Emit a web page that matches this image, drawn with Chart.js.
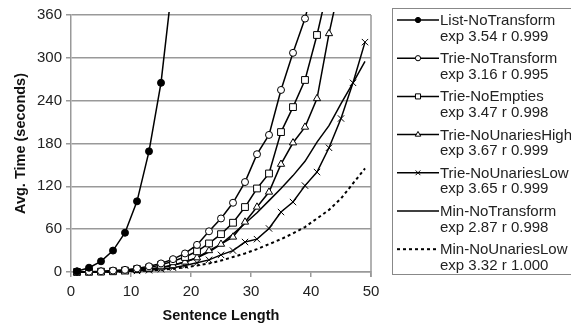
<!DOCTYPE html>
<html>
<head>
<meta charset="utf-8">
<script src="https://cdn.jsdelivr.net/npm/chart.js@4/dist/chart.umd.min.js"></script>
<style>
  html, body { margin: 0; padding: 0; background: #fff; }
  #wrap { position: relative; width: 571px; height: 325px; overflow: hidden; }
  #chart { position: absolute; left: 0; top: 0; }
  #legend { position: absolute; left: 392px; top: 8px; width: 180px; height: 267px; border: 1px solid #888; box-sizing: border-box; }
  #legendSym { position: absolute; left: 0; top: 0; pointer-events: none; }
  .lg { position: absolute; left: 440px; font-family: "Liberation Sans", Arial, sans-serif; font-size: 15px; line-height: 16px; color: #222; white-space: nowrap; }
</style>
</head>
<body>
<div id="wrap">
  <canvas id="chart" width="571" height="325"></canvas>
  <div id="legend"></div>
  <canvas id="legendSym" width="571" height="325"></canvas>
</div>
<script>
// ---- Data ----
const seriesNames = ["List-NoTransform", "Trie-NoTransform", "Trie-NoEmpties", "Trie-NoUnariesHigh", "Trie-NoUnariesLow", "Min-NoTransform", "Min-NoUnariesLow"];
const seriesFits = ["exp 3.54 r 0.999", "exp 3.16 r 0.995", "exp 3.47 r 0.998", "exp 3.67 r 0.999", "exp 3.65 r 0.999", "exp 2.87 r 0.998", "exp 3.32 r 1.000"];

const xList = [1, 3, 5, 7, 9, 11, 13, 15, 17];
const yList = [1, 6, 15, 30, 55, 99, 169, 265, 412];

const xTrieNoTransform = [1, 3, 5, 7, 9, 11, 13, 15, 17, 19, 21, 23, 25, 27, 29, 31, 33, 35, 37, 39, 41];
const yTrieNoTransform = [0, 0.5, 1, 2, 3, 5, 8, 12, 18, 26, 38, 57, 75, 97, 126, 165, 192, 255, 307, 355, 420];

const xTrieNoEmpties = [1, 3, 5, 7, 9, 11, 13, 15, 17, 19, 21, 23, 25, 27, 29, 31, 33, 35, 37, 39, 41, 43];
const yTrieNoEmpties = [0, 0.2, 0.5, 1, 2, 4, 6, 10, 15, 21, 29, 40, 53, 69, 91, 117, 138, 196, 231, 269, 332, 405];

const xTrieNoUnariesHigh = [1, 3, 5, 7, 9, 11, 13, 15, 17, 19, 21, 23, 25, 27, 29, 31, 33, 35, 37, 39, 41, 43, 45];
const yTrieNoUnariesHigh = [0, 0.1, 0.3, 0.6, 1, 2, 3.5, 6, 9, 14, 20, 30, 39, 49, 70, 91, 112, 151, 181, 203, 243, 334, 410];

const xTrieNoUnariesLow = [1, 3, 5, 7, 9, 11, 13, 15, 17, 19, 21, 23, 25, 27, 29, 31, 33, 35, 37, 39, 41, 43, 45, 47, 49];
const yTrieNoUnariesLow = [0, 0.1, 0.2, 0.5, 1, 1.5, 2.5, 4, 6, 9, 13, 17, 24, 30, 42, 46, 61, 84, 98, 121, 140, 174, 215, 265, 322];

const xMinNoTransform = [1, 3, 5, 7, 9, 11, 13, 15, 17, 19, 21, 23, 25, 27, 29, 31, 33, 35, 37, 39, 41, 43, 45, 47, 49];
const yMinNoTransform = [0, 0.1, 0.3, 0.8, 1.5, 2.5, 4, 6.5, 10, 14, 20, 28, 39, 53, 68, 83, 100, 117, 135, 155, 182, 205, 236, 265, 295];

const xMinNoUnariesLow = [1, 3, 5, 7, 9, 11, 13, 15, 17, 19, 21, 23, 25, 27, 29, 31, 33, 35, 37, 39, 41, 43, 45, 47, 49];
const yMinNoUnariesLow = [0, 0, 0.1, 0.3, 0.6, 1.2, 2, 3, 4.5, 6.5, 9, 12, 16, 21, 26, 32, 39, 46, 54, 63, 75, 87, 103, 124, 145];

const xTicks = [0, 10, 20, 30, 40, 50];
const yTicks = [0, 60, 120, 180, 240, 300, 360];

// ---- Build ----
function pts(xs, ys) { return xs.map((x, i) => ({ x: x, y: ys[i] })); }
const Y_MAX = yTicks[yTicks.length - 1];
function hideAbove(r) { return ctx => (ctx.raw && ctx.raw.y > Y_MAX) ? 0 : r; }

const styles = [
  { pointStyle: 'circle', radius: 3.5, fill: '#000', dash: [], width: 1.5 },
  { pointStyle: 'circle', radius: 3.5, fill: '#fff', dash: [], width: 1.5 },
  { pointStyle: 'rect', radius: 4.8, fill: '#fff', dash: [], width: 1.5 },
  { pointStyle: 'triangle', radius: 4.2, fill: '#fff', dash: [], width: 1.5 },
  { pointStyle: 'crossRot', radius: 4.5, fill: '#fff', dash: [], width: 1.5 },
  { pointStyle: false, radius: 0, fill: '#fff', dash: [], width: 1.5 },
  { pointStyle: false, radius: 0, fill: '#fff', dash: [3, 3], width: 2 }
];
const seriesData = [
  pts(xList, yList),
  pts(xTrieNoTransform, yTrieNoTransform),
  pts(xTrieNoEmpties, yTrieNoEmpties),
  pts(xTrieNoUnariesHigh, yTrieNoUnariesHigh),
  pts(xTrieNoUnariesLow, yTrieNoUnariesLow),
  pts(xMinNoTransform, yMinNoTransform),
  pts(xMinNoUnariesLow, yMinNoUnariesLow)
];

const datasets = seriesData.map((d, i) => ({
  label: seriesNames[i],
  data: d,
  borderColor: '#000',
  borderWidth: styles[i].width,
  borderDash: styles[i].dash,
  pointStyle: styles[i].pointStyle || 'circle',
  pointRadius: hideAbove(styles[i].radius),
  pointHoverRadius: hideAbove(styles[i].radius),
  pointBackgroundColor: styles[i].fill,
  pointBorderColor: '#000',
  pointBorderWidth: 1,
  tension: 0,
  fill: false,
  clip: { left: 8, top: 3, right: 8, bottom: 8 }
}));

const frameRight = {
  id: 'frameRight',
  afterDraw(chart) {
    const { ctx, chartArea: a } = chart;
    ctx.save();
    ctx.strokeStyle = '#999';
    ctx.lineWidth = 1.5;
    ctx.beginPath();
    ctx.moveTo(a.right, a.top);
    ctx.lineTo(a.right, a.bottom + 5);
    ctx.stroke();
    ctx.restore();
  }
};

const FONT = '"Liberation Sans", Arial, sans-serif';
new Chart(document.getElementById('chart'), {
  type: 'line',
  data: { datasets: datasets },
  plugins: [frameRight],
  options: {
    responsive: false,
    animation: false,
    events: [],
    layout: { padding: { left: 0, top: 15, right: 200, bottom: 0 } },
    plugins: { legend: { display: false }, tooltip: { enabled: false } },
    scales: {
      x: {
        type: 'linear',
        min: xTicks[0], max: xTicks[xTicks.length - 1],
        afterBuildTicks: s => { s.ticks = xTicks.map(v => ({ value: v })); },
        afterFit: s => { s.height = 53; },
        grid: { drawOnChartArea: false, drawTicks: true, tickLength: 5, color: '#999', lineWidth: 1.5 },
        border: { display: true, color: '#999', width: 1.5 },
        ticks: { color: '#222', padding: 6, font: { family: FONT, size: 15 }, maxRotation: 0 },
        title: { display: true, text: 'Sentence Length', color: '#111', padding: { top: 0, bottom: 0 }, font: { family: FONT, size: 14.5, weight: 'bold' } }
      },
      y: {
        type: 'linear',
        min: yTicks[0], max: Y_MAX,
        afterBuildTicks: s => { s.ticks = yTicks.map(v => ({ value: v })); },
        afterFit: s => { s.width = 71; },
        grid: { drawOnChartArea: true, drawTicks: true, tickLength: 5, color: '#999', lineWidth: 1.5 },
        border: { display: true, color: '#999', width: 1.5 },
        ticks: { color: '#222', padding: 4, font: { family: FONT, size: 15 } },
        title: { display: true, text: 'Avg. Time (seconds)', color: '#111', padding: { top: 12, bottom: 0 }, font: { family: FONT, size: 14.5, weight: 'bold' } }
      }
    }
  }
});

// ---- Legend (HTML text + symbol canvas) ----
const wrap = document.getElementById('wrap');
const sym = document.getElementById('legendSym').getContext('2d');
const ENTRY0 = 20, ENTRY_STEP = 38.2, LINE2 = 15.5;
seriesNames.forEach((name, i) => {
  const cy = ENTRY0 + ENTRY_STEP * i;
  const a = document.createElement('div');
  a.className = 'lg'; a.textContent = name; a.style.top = (cy - 8) + 'px';
  wrap.appendChild(a);
  const b = document.createElement('div');
  b.className = 'lg'; b.textContent = seriesFits[i]; b.style.top = (cy + LINE2 - 8) + 'px';
  wrap.appendChild(b);

  const st = styles[i];
  sym.save();
  sym.strokeStyle = '#000';
  sym.lineWidth = st.width;
  sym.setLineDash(st.dash);
  sym.beginPath();
  sym.moveTo(397, cy); sym.lineTo(439, cy);
  sym.stroke();
  sym.restore();
  if (st.pointStyle && Chart.helpers && Chart.helpers.drawPoint) {
    sym.save();
    sym.fillStyle = st.fill; sym.strokeStyle = '#000'; sym.lineWidth = 1;
    Chart.helpers.drawPoint(sym, { pointStyle: st.pointStyle, radius: st.radius * 0.75, rotation: 0, borderWidth: 1 }, 418, cy);
    sym.restore();
  }
});
</script>
</body>
</html>
